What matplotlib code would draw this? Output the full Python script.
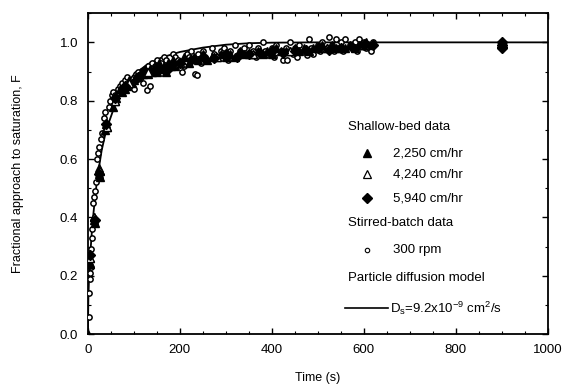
import matplotlib.pyplot as plt
from matplotlib.ticker import MultipleLocator

plt.rcParams['font.family'] = ['Liberation Sans', 'DejaVu Sans']

# particle diffusion model curve
t_model = [0, 1, 2, 5, 10, 15, 20, 30, 40, 60, 80, 100, 130, 160, 200, 250, 300, 350, 400, 500, 1000]
F_model = [0.0, 0.12, 0.17, 0.27, 0.38, 0.46, 0.53, 0.63, 0.70, 0.79, 0.85, 0.89, 0.925, 0.948,
           0.967, 0.982, 0.992, 0.997, 0.999, 1.0, 1.0]

# shallow-bed data, 2,250 cm/hr
t_2250 = [0, 3, 4, 5, 13, 14, 15, 24, 25, 26, 38, 40, 42, 55, 58, 62, 75, 80, 85, 95, 100, 110,
          120, 130, 140, 150, 160, 170, 180, 190, 200, 220, 240, 260, 280, 300, 320, 340, 360,
          380, 400, 420, 440, 460, 480, 500, 520, 540, 560, 580, 600, 610,
          70, 90, 105, 115, 125, 135, 145, 155, 165, 175, 185, 195, 210, 230, 250, 270, 290,
          310, 330, 350, 370, 390, 410, 430, 450, 470, 490, 510, 530, 550, 570, 590, 605]
F_2250 = [0.0, 0.25, 0.26, 0.24, 0.39, 0.40, 0.38, 0.55, 0.57, 0.54, 0.70, 0.72, 0.71, 0.78,
          0.80, 0.81, 0.83, 0.84, 0.85, 0.86, 0.87, 0.88, 0.89, 0.89, 0.90, 0.90, 0.91, 0.90,
          0.92, 0.92, 0.93, 0.93, 0.94, 0.94, 0.95, 0.95, 0.95, 0.96, 0.96, 0.96, 0.96, 0.97,
          0.97, 0.97, 0.97, 0.98, 0.98, 0.98, 0.98, 0.98, 0.99, 0.99,
          0.84, 0.87, 0.88, 0.90, 0.91, 0.91, 0.92, 0.93, 0.92, 0.93, 0.94, 0.93, 0.95, 0.95,
          0.96, 0.95, 0.96, 0.96, 0.97, 0.96, 0.97, 0.97, 0.98, 0.97, 0.98, 0.98, 0.98, 0.99,
          0.99, 0.98, 0.99, 0.99, 1.0]

# shallow-bed data, 4,240 cm/hr
t_4240 = [4, 14, 26, 41, 60, 90, 130, 200, 280, 360, 440, 520, 600]
F_4240 = [0.26, 0.40, 0.56, 0.71, 0.80, 0.86, 0.90, 0.93, 0.95, 0.96, 0.97, 0.98, 0.99]

# shallow-bed data, 5,940 cm/hr
t_5940 = [5, 15, 25, 40, 60, 80, 110, 150, 200, 250, 300, 350, 400, 450, 500, 550, 600, 620,
          175, 225, 275, 325, 375, 425, 475, 525, 575,
          900, 900, 900, 900]
F_5940 = [0.27, 0.39, 0.55, 0.72, 0.81, 0.85, 0.88, 0.91, 0.93, 0.95, 0.96, 0.96, 0.97, 0.97,
          0.98, 0.98, 0.99, 0.99,
          0.91, 0.94, 0.945, 0.95, 0.965, 0.965, 0.975, 0.975, 0.985,
          0.98, 0.99, 1.0, 0.985]

# stirred-batch data, 300 rpm
t_300 = [2, 3, 4, 5, 6, 7, 9, 10, 12, 14, 16, 18, 20, 22, 25, 28, 30, 35, 38, 45, 48, 52, 55,
         60, 65, 70, 75, 80, 85, 90, 95, 100, 105, 110, 115, 120, 125, 128, 130, 135, 140, 145,
         150, 155, 160, 165, 170, 175, 180, 185, 190, 195, 200, 204, 210, 215, 220, 225, 230,
         233, 237, 240, 245, 250, 255, 260, 270, 275, 280, 290, 295, 300, 305, 310, 320, 325,
         330, 340, 345, 350, 360, 365, 370, 380, 385, 390, 400, 405, 410, 420, 425, 430, 432,
         440, 445, 450, 455, 460, 470, 476, 480, 485, 490, 500, 505, 510, 520, 525, 530, 535,
         540, 545, 550, 555, 560, 570, 575, 580, 585, 590, 595, 600, 605, 610, 615, 620]
F_300 = [0.06, 0.14, 0.19, 0.21, 0.23, 0.29, 0.33, 0.36, 0.45, 0.47, 0.49, 0.52, 0.60, 0.62,
         0.64, 0.67, 0.69, 0.74, 0.76, 0.78, 0.80, 0.82, 0.83, 0.82, 0.84, 0.85, 0.86, 0.87,
         0.88, 0.86, 0.85, 0.84, 0.89, 0.90, 0.88, 0.86, 0.91, 0.835, 0.92, 0.85, 0.93, 0.92,
         0.94, 0.91, 0.93, 0.95, 0.94, 0.92, 0.93, 0.96, 0.95, 0.94, 0.93, 0.90, 0.92, 0.96,
         0.95, 0.97, 0.94, 0.89, 0.887, 0.96, 0.93, 0.97, 0.95, 0.94, 0.98, 0.96, 0.95, 0.97,
         0.98, 0.96, 0.94, 0.97, 0.99, 0.95, 0.97, 0.98, 0.96, 0.99, 0.97, 0.95, 0.98, 1.0,
         0.97, 0.96, 0.98, 0.95, 0.99, 0.97, 0.94, 0.98, 0.94, 1.0, 0.96, 0.98, 0.95, 0.99,
         0.97, 0.955, 1.01, 0.98, 0.96, 0.99, 0.97, 1.0, 0.98, 1.02, 0.99, 0.97, 1.01, 0.98,
         1.0, 0.97, 1.01, 0.99, 0.98, 1.0, 0.97, 1.01, 0.99, 1.0, 0.98, 0.99, 0.97, 1.0]

fig = plt.figure(figsize=(5.67, 3.88), dpi=100)
ax = fig.add_axes([0.155, 0.139, 0.811, 0.827])

ax.plot(t_model, F_model, color='black', lw=1.3, zorder=2)
ax.plot(t_300, F_300, 'o', ms=3.8, mfc='white', mec='black', mew=1.1, zorder=3)
ax.plot(t_2250, F_2250, '^', ms=6, color='black', zorder=4)
ax.plot(t_4240, F_4240, '^', ms=5.5, mfc='white', mec='black', mew=1.0, zorder=4)
ax.plot(t_5940, F_5940, 'D', ms=5.5, color='black', zorder=4)

ax.set_xlim(0, 1000)
ax.set_ylim(0, 1.1)
ax.set_xticks([0, 200, 400, 600, 800, 1000])
ax.set_yticks([0.0, 0.2, 0.4, 0.6, 0.8, 1.0])
ax.set_yticklabels(['0.0', '0.2', '0.4', '0.6', '0.8', '1.0'])
ax.xaxis.set_minor_locator(MultipleLocator(50))
ax.yaxis.set_minor_locator(MultipleLocator(0.1))
ax.tick_params(which='both', direction='in', top=True, right=True, labelsize=9.5)
ax.tick_params(axis='x', which='major', pad=7)
ax.tick_params(axis='y', which='major', pad=7)
ax.tick_params(which='major', length=4, width=1)
ax.tick_params(which='minor', length=2.5, width=0.8)
for s in ax.spines.values():
    s.set_linewidth(1.3)

ax.set_xlabel('Time (s)', fontsize=9, labelpad=12)
ax.set_ylabel('Fractional approach to saturation, F', fontsize=9, labelpad=26)

# legend drawn by hand
tr = ax.transAxes
fs = 9.5
ax.text(0.565, 0.645, 'Shallow-bed data', transform=tr, fontsize=fs, va='center')
ax.plot([0.607], [0.564], '^', ms=5.5, color='black', transform=tr)
ax.text(0.663, 0.564, '2,250 cm/hr', transform=tr, fontsize=fs, va='center')
ax.plot([0.607], [0.498], '^', ms=5.5, mfc='white', mec='black', mew=0.9, transform=tr)
ax.text(0.663, 0.498, '4,240 cm/hr', transform=tr, fontsize=fs, va='center')
ax.plot([0.607], [0.424], 'D', ms=5.5, color='black', transform=tr)
ax.text(0.663, 0.424, '5,940 cm/hr', transform=tr, fontsize=fs, va='center')
ax.text(0.565, 0.346, 'Stirred-batch data', transform=tr, fontsize=fs, va='center')
ax.plot([0.607], [0.262], 'o', ms=3.2, mfc='white', mec='black', mew=0.8, transform=tr)
ax.text(0.663, 0.262, '300 rpm', transform=tr, fontsize=fs, va='center')
ax.text(0.565, 0.174, 'Particle diffusion model', transform=tr, fontsize=fs, va='center')
ax.plot([0.559, 0.652], [0.081, 0.081], color='black', lw=1.2, transform=tr)
ax.text(0.657, 0.081, r'D$_\mathregular{s}$=9.2x10$^\mathregular{-9}$ cm$^\mathregular{2}$/s',
        transform=tr, fontsize=fs, va='center')

fig.savefig('out.png', dpi=100)
